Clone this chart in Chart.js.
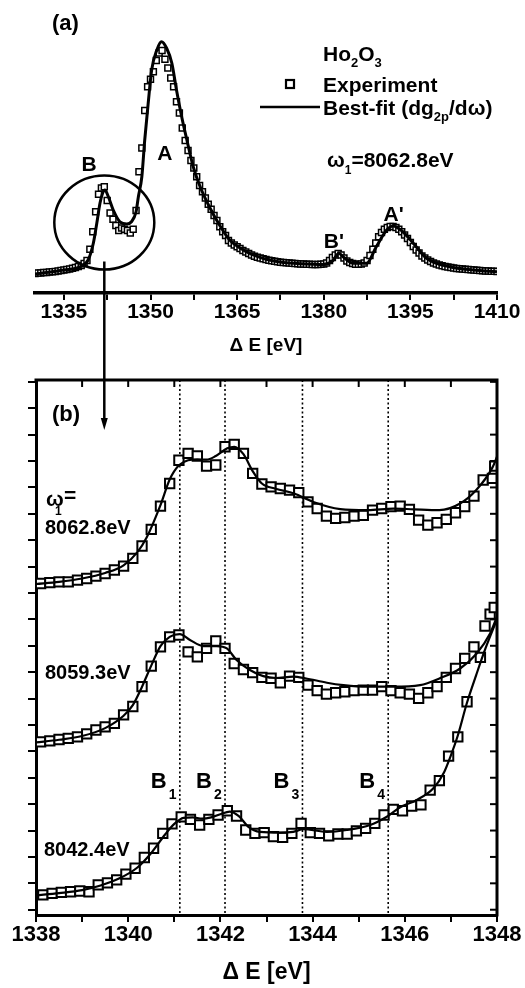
<!DOCTYPE html>
<html>
<head>
<meta charset="utf-8">
<script src="https://cdn.jsdelivr.net/npm/chart.js@4.4.1/dist/chart.umd.min.js"></script>
<style>
  html, body { margin: 0; padding: 0; background: #fff; }
  #wrap { position: relative; width: 525px; height: 988px; overflow: hidden; }
  #chartA { position: absolute; left: 0; top: 0; }
  #chartB { position: absolute; left: 0; top: 360px; }
</style>
</head>
<body>
<div id="wrap">
  <canvas id="chartA" width="525" height="360"></canvas>
  <canvas id="chartB" width="525" height="628"></canvas>
</div>
<script>
// ---- panel (a): full spectrum, omega1 = 8062.8 eV ----
const ovE = [1330,1330.5,1331,1331.5,1332,1332.5,1333,1333.5,1334,1334.5,1335,1335.5,1336,1336.5,1337,1337.5,1338,1338.5,1339,1339.5,
  1340,1340.5,1341,1341.5,1342,1342.5,1343,1343.5,1344,1344.5,1345,1345.5,1346,1346.5,1347,1347.5,1348,1348.5,1349,1349.5,
  1350,1350.5,1351,1351.5,1352,1352.5,1353,1353.5,1354,1354.5,1355,1355.5,1356,1356.5,1357,1357.5,1358,1358.5,1359,1359.5,
  1360,1360.5,1361,1361.5,1362,1362.5,1363,1363.5,1364,1364.5,1365,1365.5,1366,1366.5,1367,1367.5,1368,1368.5,1369,1369.5,
  1370,1370.5,1371,1371.5,1372,1372.5,1373,1373.5,1374,1374.5,1375,1375.5,1376,1376.5,1377,1377.5,1378,1378.5,1379,1379.5,
  1380,1380.5,1381,1381.5,1382,1382.5,1383,1383.5,1384,1384.5,1385,1385.5,1386,1386.5,1387,1387.5,1388,1388.5,1389,1389.5,
  1390,1390.5,1391,1391.5,1392,1392.5,1393,1393.5,1394,1394.5,1395,1395.5,1396,1396.5,1397,1397.5,1398,1398.5,1399,1399.5,
  1400,1400.5,1401,1401.5,1402,1402.5,1403,1403.5,1404,1404.5,1405,1405.5,1406,1406.5,1407,1407.5,1408,1408.5,1409,1409.5,1410];
const ovExp = [0.78,0.80,0.80,0.82,0.82,0.84,0.85,0.86,0.88,0.90,0.92,0.94,0.96,0.99,1.02,1.06,1.10,1.18,1.30,1.75,
  2.45,3.25,3.95,4.20,4.25,3.70,3.20,2.95,2.70,2.50,2.60,2.55,2.50,2.40,2.55,3.30,4.85,5.80,7.30,8.25,
  8.55,8.85,9.30,9.60,9.70,9.35,9.00,8.60,8.25,7.65,7.20,6.60,6.10,5.70,5.30,5.00,4.65,4.30,4.05,3.80,
  3.55,3.35,3.10,2.90,2.65,2.45,2.30,2.10,2.00,1.92,1.85,1.78,1.70,1.64,1.58,1.52,1.47,1.43,1.40,1.37,
  1.34,1.31,1.29,1.27,1.25,1.23,1.22,1.21,1.20,1.19,1.18,1.17,1.16,1.16,1.15,1.15,1.14,1.14,1.14,1.15,
  1.16,1.20,1.30,1.42,1.52,1.58,1.52,1.40,1.28,1.22,1.18,1.15,1.15,1.16,1.20,1.30,1.50,1.75,2.00,2.25,
  2.42,2.55,2.62,2.66,2.66,2.62,2.55,2.45,2.32,2.18,2.02,1.86,1.72,1.60,1.48,1.40,1.32,1.26,1.20,1.16,
  1.12,1.09,1.06,1.04,1.02,1.00,0.98,0.97,0.96,0.95,0.94,0.93,0.92,0.91,0.90,0.89,0.88,0.88,0.87,0.87,0.86];
const ovFitE = [1330,1335,1337.8,1339.2,1340.1,1340.7,1341.25,1341.7,1342.1,1342.7,1343.55,1344.7,1345.9,1346.7,1347.5,1347.9,
  1348.5,1349.0,1349.6,1350.2,1351.1,1351.9,1352.8,1353.7,1354.5,1355.4,1356.3,1357.4,1358.6,1360.3,1362.0,1363.7,1365.5,
  1367.5,1370,1373,1376,1379.9,1381.6,1382.6,1383.5,1385.1,1387.4,1389.1,1390.9,1392.0,1393.7,1395.5,1397.8,1401.8,1405.9,1410];
const ovFit = [0.76,0.92,1.05,1.32,1.99,2.79,3.59,3.99,4.12,3.85,3.32,2.85,2.76,2.85,3.25,3.85,
  4.65,6.12,7.59,8.92,9.72,10.05,9.79,9.19,8.12,7.05,6.12,5.05,4.25,3.40,2.70,2.12,1.80,
  1.55,1.35,1.22,1.17,1.14,1.30,1.59,1.42,1.19,1.19,1.85,2.52,2.68,2.45,1.99,1.39,1.05,0.92,0.85];
const circleAt = [1342, 2.82];
const peakLabels = [['A', 1352.5, 5.32], ['B', 1339.35, 4.88], ["B'", 1381.75, 1.8], ["A'", 1392.1, 2.88]];

// ---- panel (b): B-region for three excitation energies ----
const topE = [1338.1,1338.3,1338.5,1338.7,1338.9,1339.1,1339.3,1339.5,1339.7,1339.9,1340.1,1340.3,1340.5,1340.7,1340.9,
  1341.1,1341.3,1341.5,1341.7,1341.9,1342.1,1342.3,1342.5,1342.7,1342.9,1343.1,1343.3,1343.5,1343.7,1343.9,1344.1,1344.3,
  1344.5,1344.7,1344.9,1345.1,1345.3,1345.5,1345.7,1345.9,1346.1,1346.3,1346.5,1346.7,1346.9,1347.1,1347.3,1347.5,1347.7,1347.9,1347.95];
const topExp = [12.36,12.39,12.42,12.42,12.49,12.55,12.64,12.74,12.87,13.02,13.31,13.78,14.41,15.29,16.15,
  17.03,17.29,17.19,16.81,16.85,17.54,17.63,17.29,16.53,16.13,16.02,15.96,15.90,15.80,15.45,15.20,14.91,
  14.83,14.86,14.91,14.94,15.14,15.20,15.27,15.29,15.17,14.76,14.57,14.66,14.79,15.04,15.27,15.67,16.28,16.34,16.81];
const topFitE = [1338.0,1338.5,1339.0,1339.5,1339.9,1340.2,1340.4,1340.7,1340.9,1341.1,1341.3,1341.5,1341.7,1341.9,1342.15,
  1342.3,1342.5,1342.7,1342.9,1343.2,1343.6,1344.0,1344.6,1345.2,1345.75,1346.2,1346.75,1347.2,1347.55,1347.9,1348.0];
const topFit = [12.34,12.42,12.55,12.76,13.05,13.55,14.10,15.33,16.30,16.84,17.03,17.06,17.05,17.19,17.48,
  17.54,17.26,16.62,16.15,15.95,15.77,15.46,15.18,15.14,15.20,15.17,15.14,15.39,15.90,16.75,17.16];

const midE = [1338.1,1338.3,1338.5,1338.7,1338.9,1339.1,1339.3,1339.5,1339.7,1339.9,1340.1,1340.3,1340.5,1340.7,1340.9,
  1341.1,1341.3,1341.5,1341.7,1341.9,1342.1,1342.3,1342.5,1342.7,1342.9,1343.1,1343.3,1343.5,1343.7,1343.9,1344.1,1344.3,
  1344.5,1344.7,1344.9,1345.1,1345.3,1345.5,1345.7,1345.9,1346.1,1346.3,1346.5,1346.7,1346.9,1347.1,1347.3,1347.5,
  1347.64,1347.74,1347.85,1347.94];
const midExp = [6.36,6.40,6.45,6.49,6.55,6.66,6.81,6.93,7.06,7.38,7.70,8.45,9.23,9.96,10.34,
  10.41,9.77,9.58,9.90,10.18,9.90,9.33,9.10,8.98,8.80,8.77,8.60,8.85,8.80,8.51,8.30,8.17,
  8.22,8.26,8.30,8.32,8.32,8.45,8.30,8.22,8.17,8.01,8.22,8.45,8.80,9.14,9.52,9.96,
  9.56,10.75,11.20,11.45];
const midFitE = [1338.0,1338.5,1339.0,1339.5,1339.9,1340.1,1340.3,1340.5,1340.7,1340.9,1341.12,1341.34,1341.63,1341.92,
  1342.14,1342.35,1342.64,1342.93,1343.2,1343.58,1343.84,1344.31,1344.67,1345.18,1345.75,1346.33,1346.76,1347.2,1347.56,1347.85,1348.0];
const midFit = [6.34,6.44,6.58,6.88,7.35,7.75,8.45,9.25,9.99,10.34,10.44,10.22,9.99,9.99,
  9.90,9.46,9.08,8.85,8.78,8.83,8.77,8.60,8.51,8.45,8.45,8.51,8.77,9.14,9.71,10.47,11.10];

const botE = [1338.15,1338.35,1338.55,1338.75,1338.95,1339.15,1339.35,1339.55,1339.75,1339.95,1340.15,1340.35,1340.55,
  1340.75,1340.95,1341.15,1341.35,1341.55,1341.75,1341.95,1342.15,1342.35,1342.55,1342.75,1342.95,1343.15,1343.35,
  1343.55,1343.75,1343.95,1344.15,1344.35,1344.55,1344.75,1344.95,1345.15,1345.35,1345.55,1345.75,1345.95,1346.15,
  1346.35,1346.55,1346.75,1346.95,1347.15,1347.35];
const botExp = [0.56,0.62,0.66,0.68,0.71,0.68,0.94,1.02,1.13,1.35,1.57,1.98,2.33,
  2.89,3.25,3.52,3.42,3.21,3.42,3.59,3.75,3.55,3.02,2.89,2.92,2.77,2.74,
  2.89,3.27,2.92,2.89,2.80,2.87,2.87,2.99,3.08,3.27,3.59,3.80,3.75,3.93,
  3.97,4.53,4.89,5.82,6.55,7.88];
const botFitE = [1338.0,1338.5,1339.0,1339.4,1339.8,1340.2,1340.5,1340.8,1341.0,1341.2,1341.4,1341.6,1341.8,1342.0,1342.2,
  1342.4,1342.6,1342.86,1343.3,1343.58,1343.8,1344.31,1344.74,1345.25,1345.61,1345.9,1346.26,1346.62,1346.85,1347.0,
  1347.15,1347.35,1347.55,1347.75,1348.0];
const botFit = [0.55,0.63,0.74,0.92,1.18,1.60,2.15,2.85,3.25,3.48,3.50,3.45,3.50,3.62,3.72,
  3.55,3.15,2.95,2.92,2.95,3.05,2.95,3.02,3.21,3.52,3.88,4.16,4.60,5.20,5.85,
  6.60,7.85,8.90,9.90,11.00];

const bLines = [1341.12, 1342.1, 1343.78, 1345.64];
const bNames = [['B', '1'], ['B', '2'], ['B', '3'], ['B', '4']];

const FONT = '"Liberation Sans", Arial, Helvetica, sans-serif';
Chart.defaults.font.family = FONT;
Chart.defaults.font.weight = 'bold';
Chart.defaults.color = '#000';

const pts = (xs, ys) => xs.map((x, i) => ({x: x, y: ys[i]}));

// text with sub-scripts, parts are [text, size, dy]
function rich(ctx, x, y, parts) {
    let cx = x;
    for (const [t, size, dy] of parts) {
        ctx.font = `bold ${size}px ${FONT}`;
        ctx.fillText(t, cx, y + dy);
        cx += ctx.measureText(t).width;
    }
}

function line(ctx, x1, y1, x2, y2) {
    ctx.beginPath();
    ctx.moveTo(x1, y1);
    ctx.lineTo(x2, y2);
    ctx.stroke();
}

const overviewDecor = {
    id: 'overviewDecor',
    afterDraw(chart) {
        const {ctx, scales: {x, y}} = chart;
        ctx.save();
        ctx.fillStyle = '#000';
        ctx.strokeStyle = '#000';
        ctx.textBaseline = 'alphabetic';

        //circle around the B structure + arrow stem
        const cx = x.getPixelForValue(circleAt[0]);
        const cy = y.getPixelForValue(circleAt[1]);
        ctx.lineWidth = 2.5;
        ctx.beginPath();
        ctx.ellipse(cx, cy, 50, 47, 0, 0, Math.PI * 2);
        ctx.stroke();
        line(ctx, cx, cy + 39, cx, chart.height);

        ctx.textAlign = 'center';
        ctx.font = `bold 21px ${FONT}`;
        for (const [t, e, v] of peakLabels) {
            ctx.fillText(t, x.getPixelForValue(e), y.getPixelForValue(v));
        }

        ctx.textAlign = 'left';
        ctx.font = `bold 22px ${FONT}`;
        ctx.fillText('(a)', 52, 30);

        //legend
        rich(ctx, 323, 61, [['Ho', 21, 0], ['2', 13, 6], ['O', 21, 0], ['3', 13, 6]]);
        ctx.lineWidth = 2.2;
        ctx.fillStyle = '#fff';
        ctx.fillRect(286, 80, 8, 8);
        ctx.strokeRect(286, 80, 8, 8);
        ctx.fillStyle = '#000';
        rich(ctx, 323, 92, [['Experiment', 21, 0]]);
        ctx.lineWidth = 2.5;
        line(ctx, 260, 107, 320, 107);
        rich(ctx, 323, 115, [['Best-fit (dg', 21, 0], ['2p', 13, 6], ['/d\u03c9)', 21, 0]]);
        rich(ctx, 327, 167, [['\u03c9', 21, 0], ['1', 12, 7], ['=8062.8eV', 21, 0]]);
        ctx.restore();
    }
};

const chartA = new Chart(document.getElementById('chartA'), {
    type: 'scatter',
    data: {
        datasets: [
            {
                data: pts(ovFitE, ovFit),
                showLine: true,
                borderColor: '#000',
                borderWidth: 3,
                pointRadius: 0,
                cubicInterpolationMode: 'monotone',
            },
            {
                data: pts(ovE, ovExp),
                pointStyle: 'rect',
                pointRadius: 4.2,
                pointBorderWidth: 1.5,
                pointBorderColor: '#000',
                pointBackgroundColor: '#fff',
            },
        ]
    },
    options: {
        responsive: false,
        animation: false,
        devicePixelRatio: 1,
        events: [],
        layout: {padding: {left: 35, right: 28, top: 30, bottom: 0}},
        plugins: {legend: {display: false}, tooltip: {enabled: false}},
        scales: {
            x: {
                type: 'linear',
                min: 1330,
                max: 1410,
                afterFit(s) { s.height = 67; },
                grid: {drawOnChartArea: false, drawTicks: true, tickLength: 7, color: '#000', lineWidth: 2},
                border: {display: true, width: 3.5, color: '#000'},
                ticks: {
                    stepSize: 7.5, includeBounds: false, autoSkip: false, maxRotation: 0, padding: 0,
                    font: {size: 21, weight: 'bold'}, color: '#000',
                    callback: v => ((v - 1335) % 15 === 0 ? String(v) : ''),
                },
                title: {display: true, text: '\u0394 E [eV]', color: '#000',
                    font: {size: 19, weight: 'bold'}, padding: {top: 0, bottom: 3}},
            },
            y: {display: false, min: 0, max: 10.52},
        }
    },
    plugins: [overviewDecor]
});

const detailDecor = {
    id: 'detailDecor',
    beforeDatasetsDraw(chart) {
        const {ctx, chartArea: a, scales: {x}} = chart;
        ctx.save();
        ctx.strokeStyle = '#000';
        ctx.lineWidth = 1.6;
        ctx.setLineDash([2, 2.5]);
        for (const e of bLines) {
            const px = x.getPixelForValue(e);
            line(ctx, px, a.top, px, a.bottom);
        }
        ctx.restore();
    },
    afterDraw(chart) {
        const {ctx, chartArea: a, scales: {x, y}} = chart;
        ctx.save();
        ctx.strokeStyle = '#000';
        ctx.fillStyle = '#000';
        //frame top + right
        ctx.lineWidth = 3;
        ctx.beginPath();
        ctx.moveTo(a.left - 1.5, a.top);
        ctx.lineTo(a.right, a.top);
        ctx.lineTo(a.right, a.bottom + 1.5);
        ctx.stroke();
        //mirror ticks, inward
        ctx.lineWidth = 2;
        x.ticks.forEach(t => {
            const px = x.getPixelForValue(t.value);
            line(ctx, px, a.top, px, a.top + 7);
        });
        y.ticks.forEach(t => {
            const py = y.getPixelForValue(t.value);
            line(ctx, a.right, py, a.right - 7, py);
        });

        //arrow coming from the circle in (a)
        const ax = chartA.scales.x.getPixelForValue(circleAt[0]);
        ctx.lineWidth = 2.5;
        line(ctx, ax, 0, ax, 60);
        ctx.beginPath();
        ctx.moveTo(ax - 3.5, 58);
        ctx.lineTo(ax + 3.5, 58);
        ctx.lineTo(ax, 70);
        ctx.closePath();
        ctx.fill();

        ctx.textBaseline = 'alphabetic';
        ctx.textAlign = 'left';
        rich(ctx, 52, 61, [['(b)', 22, 0]]);
        rich(ctx, 46, 146, [['\u03c9', 21, 0]]);
        rich(ctx, 55, 155, [['1', 12, 0]]);
        rich(ctx, 64, 142, [['=', 21, 0]]);
        rich(ctx, 45, 174, [['8062.8eV', 20, 0]]);
        rich(ctx, 45, 319, [['8059.3eV', 20, 0]]);
        rich(ctx, 44, 496, [['8042.4eV', 20, 0]]);

        bLines.forEach((e, i) => {
            const px = x.getPixelForValue(e);
            rich(ctx, px - 29, 428, [[bNames[i][0], 22, 0]]);
            rich(ctx, px - 11, 439, [[bNames[i][1], 14, 0]]);
        });
        ctx.restore();
    }
};

const expStyle = {
    pointStyle: 'rect',
    pointRadius: 6.6,
    pointBorderWidth: 2,
    pointBorderColor: '#000',
    pointBackgroundColor: '#fff',
};
const fitStyle = {
    showLine: true,
    borderColor: '#000',
    borderWidth: 2.2,
    pointRadius: 0,
    cubicInterpolationMode: 'monotone',
};

new Chart(document.getElementById('chartB'), {
    type: 'scatter',
    data: {
        datasets: [
            {data: pts(topFitE, topFit), ...fitStyle},
            {data: pts(midFitE, midFit), ...fitStyle},
            {data: pts(botFitE, botFit), ...fitStyle},
            {data: pts(topE, topExp), ...expStyle},
            {data: pts(midE, midExp), ...expStyle},
            {data: pts(botE, botExp), ...expStyle},
        ]
    },
    options: {
        responsive: false,
        animation: false,
        devicePixelRatio: 1,
        events: [],
        layout: {padding: {left: 0, right: 28, top: 20, bottom: 0}},
        plugins: {legend: {display: false}, tooltip: {enabled: false}},
        scales: {
            x: {
                type: 'linear',
                min: 1338,
                max: 1348,
                afterFit(s) { s.height = 73; },
                grid: {drawOnChartArea: false, drawTicks: true, tickLength: 7, color: '#000', lineWidth: 2},
                border: {display: true, width: 3, color: '#000'},
                ticks: {
                    stepSize: 1, autoSkip: false, maxRotation: 0, padding: 0,
                    font: {size: 22, weight: 'bold'}, color: '#000',
                    callback: v => (v % 2 === 0 ? String(v) : ''),
                },
                title: {display: true, text: '\u0394 E [eV]', color: '#000',
                    font: {size: 23, weight: 'bold'}, padding: {top: 0, bottom: 2}},
            },
            y: {
                type: 'linear',
                min: -0.2,
                max: 20.07,
                afterFit(s) { s.width = 36; },
                grid: {drawOnChartArea: false, drawTicks: true, tickLength: 8, color: '#000', lineWidth: 2},
                border: {display: true, width: 3, color: '#000'},
                ticks: {stepSize: 1, includeBounds: false, autoSkip: false, callback: () => ''},
            },
        }
    },
    plugins: [detailDecor]
});
</script>
</body>
</html>
